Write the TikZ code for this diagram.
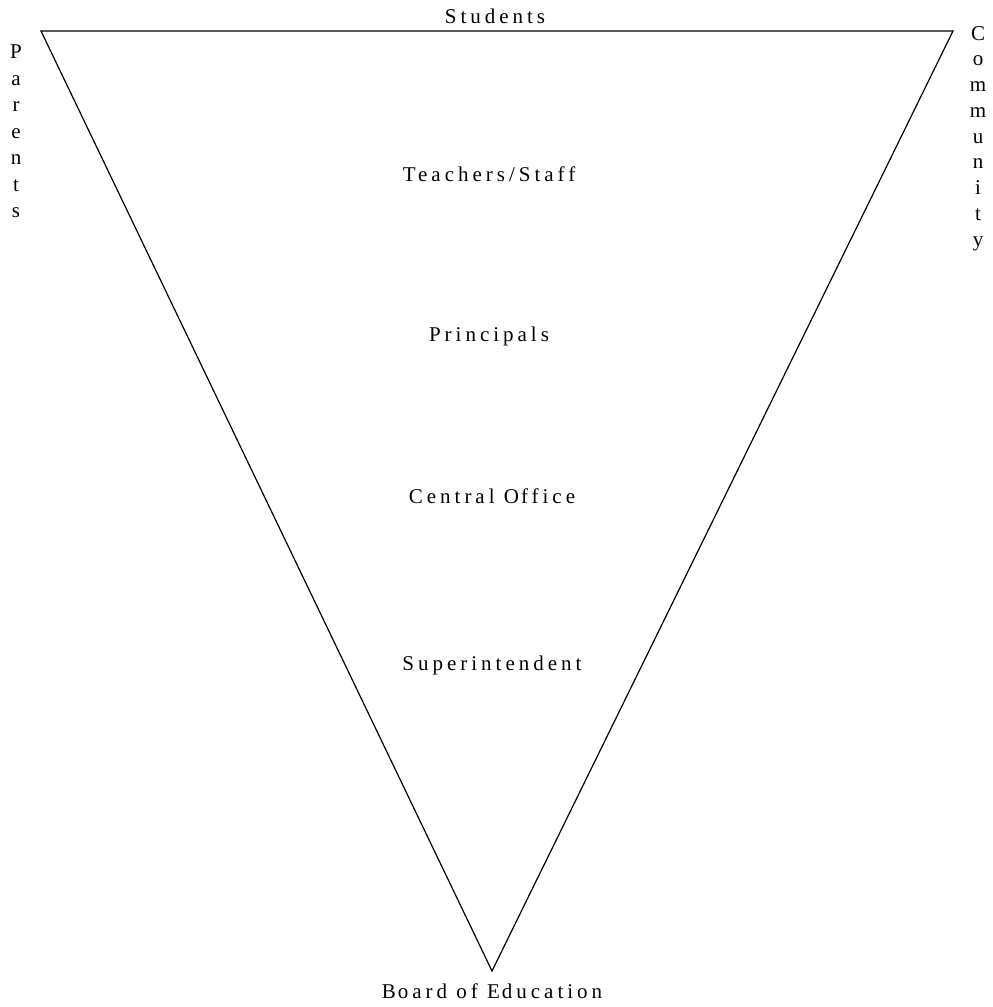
\documentclass[tikz,border=0pt]{standalone}
\usepackage{fontspec}
\setmainfont{Liberation Serif}[LetterSpace=19]
\begin{document}
\begin{tikzpicture}[x=1pt,y=-1pt,
  lbl/.style={inner sep=0pt,font=\fontsize{21}{24}\selectfont},
  vlbl/.style={inner sep=0pt,align=center,anchor=north},
  edge/.style={draw=black,line width=1.2pt,line join=miter}]
\useasboundingbox (0,0) rectangle (993,1007);
\coordinate (tl) at (41,31);
\coordinate (tr) at (953,31);
\coordinate (bt) at (492,971);
\draw[edge] (tl) -- (tr) -- (bt) -- cycle;
\node[lbl] (students) at (495,16) {Students};
\node[lbl] (teachers) at (489,174) {Teachers/Staff};
\node[lbl] (principals) at (489,336) {Principals};
\node[lbl] (central) at (492,496) {Central O\kern2pt ffice};
\node[lbl] (super) at (492,665) {Superintendent};
\node[lbl] (board) at (492,991) {B\kern2pt oard of E\kern2pt ducation};
\node[vlbl,font=\fontsize{21}{26.5}\selectfont] (parents) at (16,45) {P\\a\\r\\e\\n\\t\\s};
\node[vlbl,font=\fontsize{21}{25.75}\selectfont] (community) at (978,26) {C\\o\\m\\m\\u\\n\\i\\t\\y};
\end{tikzpicture}
\end{document}
